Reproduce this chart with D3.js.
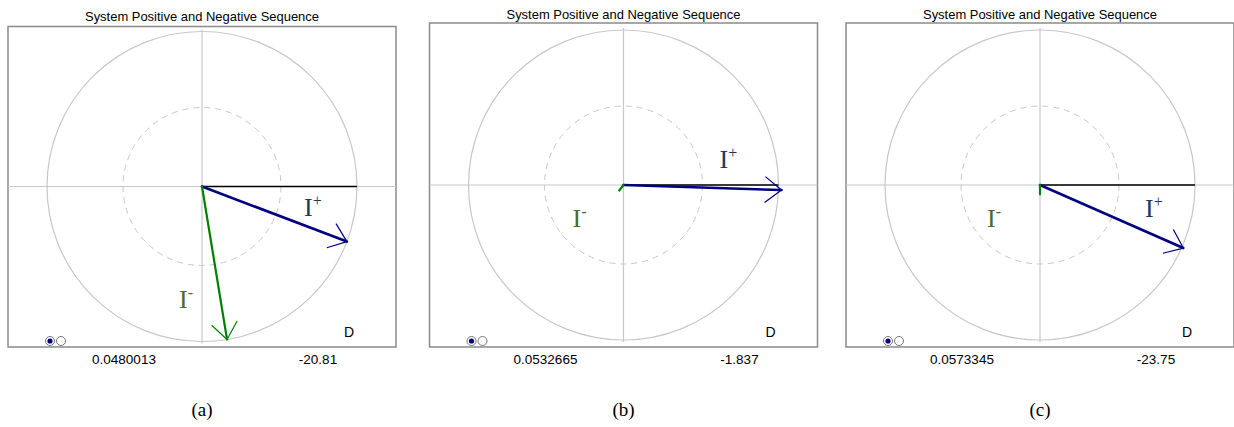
<!DOCTYPE html>
<html>
<head>
<meta charset="utf-8">
<script src="https://cdn.jsdelivr.net/npm/d3@7"></script>
<style>
	body{margin:0;background:#fff;}
	svg{display:block;}
</style>
</head>
<body>
<div id="chart"></div>
<script>
// values
let captions = ['(a)', '(b)', '(c)'],
	ratioLabels = ['0.0480013', '0.0532665', '0.0573345'],
	angleLabels = ['-20.81', '-1.837', '-23.75'],
	posAngles = [-20.81, -1.837, -23.75],   // degrees, I+
	posMags = [1.0, 1.02, 1.01],            // relative to outer circle
	negAngles = [-80.7, -128, -90],         // degrees, I-
	negMags = [1.0, 0.045, 0.06],
	title = 'System Positive and Negative Sequence';

// layout of each panel
let panelCx = [202, 623.5, 1040],
	panelCy = [186.5, 185, 185],
	frameTop = [26.5, 23, 23],
	titleY = [20.5, 18.5, 18.5],
	// label offsets from centre (x, baseline y)
	posLabelOff = [[102, 29], [96, -17], [105, 32]],
	negLabelOff = [[-23, 121], [-51, 42], [-53, 42]];

let W = 1234, H = 427, R = 155, innerR = 79, halfW = 194, frameBottom = 347;

let svg = d3.select('#chart').append('svg').attr('width', W).attr('height', H);

let rScale = d3.scaleLinear().domain([0, 1]).range([0, R]);

function drawArrow(g, ang, mag, color, lw){
	let a = ang*Math.PI/180,
		len = rScale(mag),
		x = len*Math.cos(a),
		y = -len*Math.sin(a);
	g.append('line').attr('x1', 0).attr('y1', 0).attr('x2', x).attr('y2', y)
		.attr('stroke', color).attr('stroke-width', lw).attr('stroke-linecap', 'round');
	if(len < 30) return;
	let back = Math.atan2(-y, -x), hl = 21, ha = 38*Math.PI/180;
	[back - ha, back + ha].forEach(function(t){
		g.append('line').attr('x1', x).attr('y1', y)
			.attr('x2', x + hl*Math.cos(t)).attr('y2', y + hl*Math.sin(t))
			.attr('stroke', color).attr('stroke-width', 1.2);
	});
}

function label(g, off, sup, color){
	let t = g.append('text').attr('x', off[0]).attr('y', off[1])
		.style('font-family', '"Liberation Serif", "Times New Roman", serif')
		.style('font-size', '26px').attr('fill', color);
	t.append('tspan').text('I');
	t.append('tspan').attr('dy', -10).style('font-size', '16px').text(sup);
}

captions.forEach(function(cap, i){
	let cx = panelCx[i], cy = panelCy[i],
		x0 = cx - halfW, x1 = cx + halfW;

	// title
	svg.append('text').attr('x', cx).attr('y', titleY[i])
		.attr('text-anchor', 'middle')
		.attr('textLength', 234).attr('lengthAdjust', 'spacingAndGlyphs')
		.style('font-family', '"Liberation Sans", Arial, sans-serif')
		.style('font-size', '13px').attr('fill', '#000')
		.text(title);

	// frame
	svg.append('rect').attr('x', x0).attr('y', frameTop[i])
		.attr('width', x1 - x0).attr('height', frameBottom - frameTop[i])
		.attr('fill', 'none').attr('stroke', '#8a8a8a').attr('stroke-width', 1.5);

	let g = svg.append('g').attr('transform', 'translate(' + cx + ',' + cy + ')');

	// axes
	g.append('line').attr('x1', x0 - cx).attr('x2', x1 - cx).attr('y1', 0).attr('y2', 0)
		.attr('stroke', '#c8c8c8').attr('stroke-width', 1.2);
	g.append('line').attr('x1', 0).attr('x2', 0).attr('y1', -R - 2).attr('y2', R + 2)
		.attr('stroke', '#c8c8c8').attr('stroke-width', 1.2);

	// circles
	g.append('circle').attr('r', rScale(1)).attr('fill', 'none')
		.attr('stroke', '#c8c8c8').attr('stroke-width', 1.2);
	g.append('circle').attr('r', innerR).attr('fill', 'none')
		.attr('stroke', '#c8c8c8').attr('stroke-width', 1).attr('stroke-dasharray', '6,5');

	// reference line
	g.append('line').attr('x1', 0).attr('x2', rScale(1)).attr('y1', 0).attr('y2', 0)
		.attr('stroke', '#000').attr('stroke-width', 1.3);

	drawArrow(g, posAngles[i], posMags[i], '#000080', 2.6);
	drawArrow(g, negAngles[i], negMags[i], '#008000', 2.2);

	label(g, posLabelOff[i], '+', '#1f3a5c');
	label(g, negLabelOff[i], '-', '#4f6a28');

	// D
	g.append('text').attr('x', 147).attr('y', 337 - cy).attr('text-anchor', 'middle')
		.style('font-family', '"Liberation Sans", Arial, sans-serif')
		.style('font-size', '14px').attr('fill', '#000').text('D');

	// radio icons
	let ix = x0 + 42;
	svg.append('circle').attr('cx', ix).attr('cy', 341).attr('r', 4.5)
		.attr('fill', '#fff').attr('stroke', '#777').attr('stroke-width', 1);
	svg.append('circle').attr('cx', ix).attr('cy', 341).attr('r', 2.6).attr('fill', '#000080');
	svg.append('circle').attr('cx', ix + 11).attr('cy', 341).attr('r', 4.5)
		.attr('fill', '#fff').attr('stroke', '#777').attr('stroke-width', 1);

	// values below
	svg.append('text').attr('x', cx - 78).attr('y', 364).attr('text-anchor', 'middle')
		.style('font-family', '"Liberation Sans", Arial, sans-serif')
		.style('font-size', '13.5px').attr('fill', '#000').text(ratioLabels[i]);
	svg.append('text').attr('x', cx + 116).attr('y', 364).attr('text-anchor', 'middle')
		.style('font-family', '"Liberation Sans", Arial, sans-serif')
		.style('font-size', '13.5px').attr('fill', '#000').text(angleLabels[i]);

	// caption
	svg.append('text').attr('x', cx).attr('y', 416).attr('text-anchor', 'middle')
		.style('font-family', '"Liberation Serif", "Times New Roman", serif')
		.style('font-size', '19px').attr('fill', '#000').text(cap);
});
</script>
</body>
</html>
